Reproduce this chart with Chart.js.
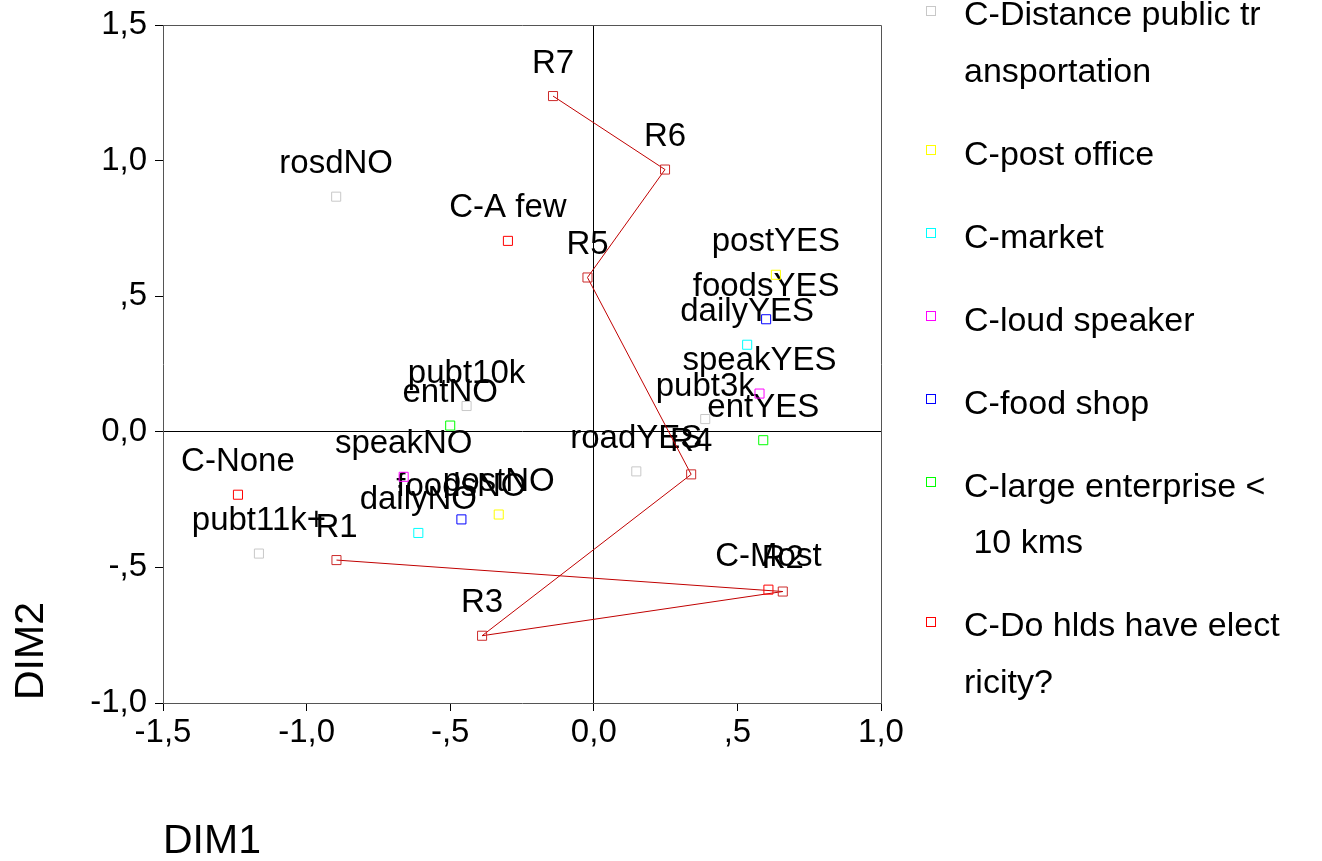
<!DOCTYPE html>
<html>
<head>
<meta charset="utf-8">
<script src="https://cdn.jsdelivr.net/npm/chart.js@4.4.0/dist/chart.umd.min.js"></script>
<style>
  html, body { margin: 0; padding: 0; background: #fff; }
  #wrap { width: 1322px; height: 861px; }
</style>
</head>
<body>
<div id="wrap"><canvas id="chart" width="1322" height="861"></canvas></div>
<script>
// ---- data ----
const distNames = ['rosdNO', 'pubt10k', 'pubt3k', 'roadYES', 'pubt11k+'];
const distX     = [-0.897, -0.443, 0.388, 0.148, -1.166];
const distY     = [0.867, 0.095, 0.047, -0.146, -0.449];

const postNames = ['postYES', 'postNO'];
const postX     = [0.634, -0.331];
const postY     = [0.579, -0.305];

const marketNames = ['dailyYES', 'dailyNO'];
const marketX     = [0.534, -0.611];
const marketY     = [0.321, -0.373];

const speakNames = ['speakYES', 'speakNO'];
const speakX     = [0.577, -0.662];
const speakY     = [0.141, -0.166];

const foodNames = ['foodsYES', 'foodsNO'];
const foodX     = [0.600, -0.461];
const foodY     = [0.415, -0.323];

const entNames = ['entYES', 'entNO'];
const entX     = [0.590, -0.500];
const entY     = [-0.031, 0.023];

const elecNames = ['C-None', 'C-A few', 'C-Most'];
const elecX     = [-1.239, -0.299, 0.608];
const elecY     = [-0.232, 0.704, -0.582];

const rowNames = ['R1', 'R2', 'R3', 'R4', 'R5', 'R6', 'R7'];
const rowX     = [-0.896, 0.658, -0.389, 0.339, -0.022, 0.248, -0.142];
const rowY     = [-0.473, -0.589, -0.752, -0.157, 0.569, 0.967, 1.238];

const xTicksMin = -1.5, xTicksMax = 1.0;
const yTicksMin = -1.0, yTicksMax = 1.5;
const tickStep  = 0.5;

// ---- helpers ----
const FONT = 'Arial, "Liberation Sans", sans-serif';
const pts = (xs, ys) => xs.map((x, i) => ({ x: x, y: ys[i] }));

function fmt(v) {
  if (Math.abs(v) < 1e-9) return '0,0';
  const a = Math.abs(v);
  const s = a < 1 ? String(a).replace('0.', ',') : a.toFixed(1).replace('.', ',');
  return (v < 0 ? '-' : '') + s;
}

function pointSet(label, names, xs, ys, color) {
  return {
    label: label,
    names: names,
    data: pts(xs, ys),
    showLine: false,
    pointStyle: 'rect',
    pointRadius: 6.4,
    pointBorderWidth: 1,
    pointBorderColor: color,
    pointBackgroundColor: 'rgba(0,0,0,0)',
    borderColor: color,
    inLegend: true
  };
}

const datasets = [
  pointSet(['C-Distance public tr', 'ansportation'], distNames, distX, distY, '#c8c8c8'),
  pointSet(['C-post office'], postNames, postX, postY, '#ffff00'),
  pointSet(['C-market'], marketNames, marketX, marketY, '#00ffff'),
  pointSet(['C-loud speaker'], speakNames, speakX, speakY, '#ff00ff'),
  pointSet(['C-food shop'], foodNames, foodX, foodY, '#0000ff'),
  pointSet(['C-large enterprise <', ' 10 kms'], entNames, entX, entY, '#00ff00'),
  pointSet(['C-Do hlds have elect', 'ricity?'], elecNames, elecX, elecY, '#ff0000'),
  {
    label: 'rows',
    names: rowNames,
    data: pts(rowX, rowY),
    showLine: true,
    borderColor: '#c00000',
    borderWidth: 1,
    pointStyle: 'rect',
    pointRadius: 6.4,
    pointBorderWidth: 1,
    pointBorderColor: '#cc2a2a',
    pointBackgroundColor: 'rgba(0,0,0,0)',
    inLegend: false
  }
];

// point labels, above each marker
const pointLabels = {
  id: 'pointLabels',
  beforeDatasetsDraw(chart) {
    const ctx = chart.ctx;
    ctx.save();
    ctx.font = '33px ' + FONT;
    ctx.fillStyle = '#000';
    ctx.textAlign = 'center';
    ctx.textBaseline = 'alphabetic';
    chart.data.datasets.forEach((ds, i) => {
      chart.getDatasetMeta(i).data.forEach((el, j) => {
        ctx.fillText(ds.names[j], el.x, el.y - 23.5);
      });
    });
    ctx.restore();
  }
};

// frame (top + right) and axis titles
const frame = {
  id: 'frame',
  afterDraw(chart) {
    const ctx = chart.ctx, a = chart.chartArea;
    ctx.save();
    ctx.strokeStyle = '#555';
    ctx.lineWidth = 1;
    ctx.beginPath();
    ctx.moveTo(a.left, a.top + 0.5);
    ctx.lineTo(a.right + 0.5, a.top + 0.5);
    ctx.lineTo(a.right + 0.5, a.bottom);
    ctx.stroke();

    ctx.fillStyle = '#000';
    ctx.font = '41px ' + FONT;
    ctx.textAlign = 'left';
    ctx.textBaseline = 'alphabetic';
    ctx.fillText('DIM1', a.left, 853);
    ctx.translate(43, a.bottom - 3);
    ctx.rotate(-Math.PI / 2);
    ctx.fillText('DIM2', 0, 0);
    ctx.restore();
  }
};

// legend on the right
const sideLegend = {
  id: 'sideLegend',
  afterDraw(chart) {
    const ctx = chart.ctx, a = chart.chartArea;
    const mx = a.right + 49, tx = a.right + 83;
    let my = a.top - 15;
    ctx.save();
    ctx.font = '34px ' + FONT;
    ctx.textAlign = 'left';
    ctx.textBaseline = 'alphabetic';
    ctx.lineWidth = 1;
    chart.data.datasets.filter(d => d.inLegend).forEach(ds => {
      ctx.strokeStyle = ds.pointBorderColor;
      ctx.strokeRect(Math.round(mx - 4.5) + 0.5, Math.round(my - 4.5) + 0.5, 9, 9);
      ctx.fillStyle = '#000';
      ds.label.forEach((line, k) => ctx.fillText(line, tx, my + 15 + k * 56.5));
      my += 83 + 56.5 * (ds.label.length - 1);
    });
    ctx.restore();
  }
};

const zeroLine = c => (c.tick && Math.abs(c.tick.value) < 1e-9) ? '#000' : 'rgba(0,0,0,0)';

new Chart(document.getElementById('chart').getContext('2d'), {
  type: 'scatter',
  data: { datasets: datasets },
  options: {
    responsive: false,
    animation: false,
    events: [],
    layout: { padding: { top: 25, right: 441, left: 0, bottom: 0 } },
    plugins: {
      legend: { display: false },
      tooltip: { enabled: false }
    },
    scales: {
      x: {
        type: 'linear',
        min: xTicksMin,
        max: xTicksMax,
        ticks: { stepSize: tickStep, callback: fmt, padding: 2, color: '#000',
                 font: { family: FONT, size: 33 }, maxRotation: 0, autoSkip: false },
        grid: { color: zeroLine, tickColor: '#000', tickLength: 8, lineWidth: 1 },
        border: { color: '#555', width: 1 },
        afterFit: s => { s.height = 158; }
      },
      y: {
        type: 'linear',
        min: yTicksMin,
        max: yTicksMax,
        ticks: { stepSize: tickStep, callback: fmt, padding: 8, color: '#000',
                 font: { family: FONT, size: 33, lineHeight: 1.0 }, autoSkip: false },
        grid: { color: zeroLine, tickColor: '#000', tickLength: 8, lineWidth: 1 },
        border: { color: '#555', width: 1 },
        afterFit: s => { s.width = 163; }
      }
    }
  },
  plugins: [pointLabels, frame, sideLegend]
});
</script>
</body>
</html>
